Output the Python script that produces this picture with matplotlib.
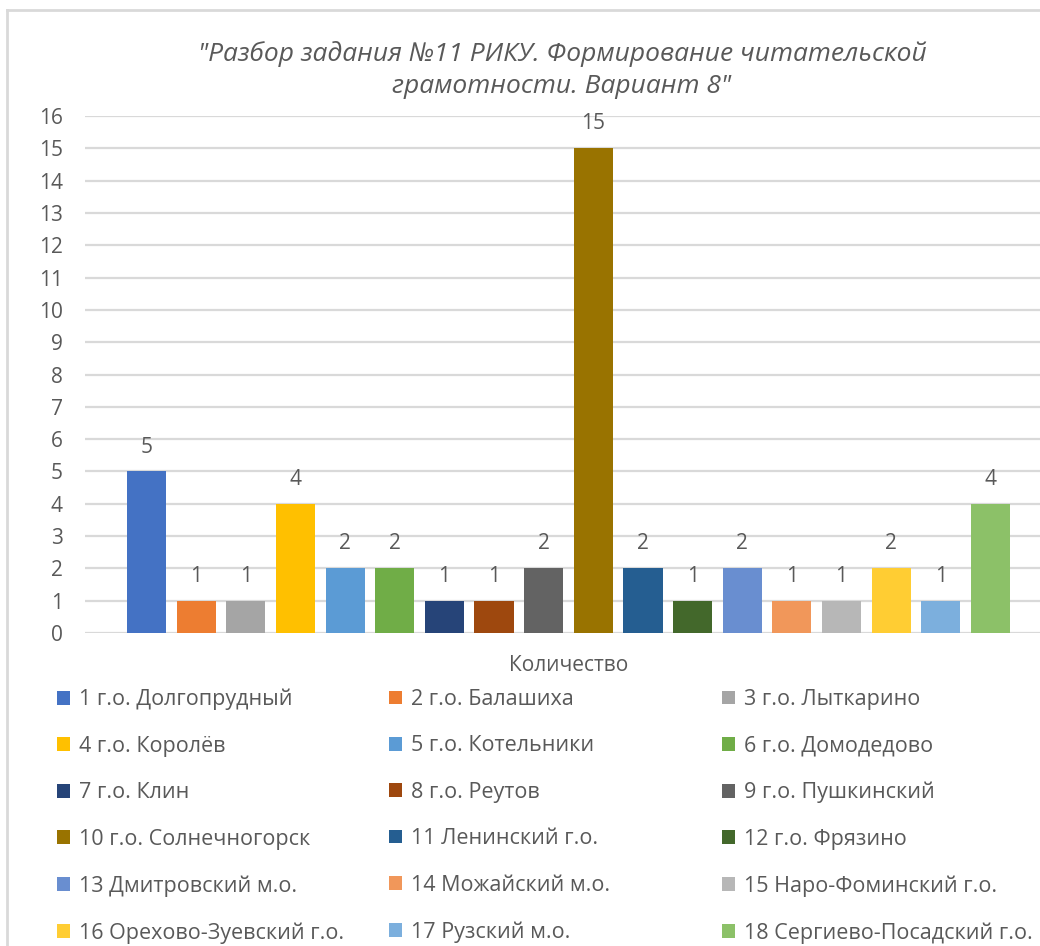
import matplotlib.pyplot as plt
from matplotlib.patches import Patch
from matplotlib.lines import Line2D
import numpy as np

# Data
category = "Количество"
names = [
    "1 г.о. Долгопрудный", "2 г.о. Балашиха", "3 г.о. Лыткарино",
    "4 г.о. Королёв", "5 г.о. Котельники", "6 г.о. Домодедово",
    "7 г.о. Клин", "8 г.о. Реутов", "9 г.о. Пушкинский",
    "10 г.о. Солнечногорск", "11 Ленинский г.о.", "12 г.о. Фрязино",
    "13 Дмитровский м.о.", "14 Можайский м.о.", "15 Наро-Фоминский г.о.",
    "16 Орехово-Зуевский г.о.", "17 Рузский м.о.", "18 Сергиево-Посадский г.о.",
]
values = [5, 1, 1, 4, 2, 2, 1, 1, 2, 15, 2, 1, 2, 1, 1, 2, 1, 4]
colors = [
    "#4472C4", "#ED7D31", "#A5A5A5", "#FFC000", "#5B9BD5", "#70AD47",
    "#264478", "#9E480E", "#636363", "#997300", "#255E91", "#43682B",
    "#698ED0", "#F1975A", "#B7B7B7", "#FFCD33", "#7CAFDD", "#8CC168",
]
title = '"Разбор задания №11 РИКУ. Формирование читательской\nграмотности. Вариант 8"'

plt.rcParams['font.family'] = ['Open Sans', 'DejaVu Sans']
gray = "#595959"
grid_c = "#D9D9D9"

W, H = 1040, 946
fig = plt.figure(figsize=(W / 100, H / 100), dpi=100)

# plot area in pixel terms
ax = fig.add_axes([85 / W, (H - 633) / H, 967 / W, 517 / H])

n = len(values)
xpos = np.arange(n) - (n - 1) / 2
for i in range(n):
    ax.bar(xpos[i], values[i], width=0.79, color=colors[i], label=names[i], zorder=3)
    ax.annotate(str(values[i]), (xpos[i], values[i]), xytext=(0, 10),
                textcoords="offset points", ha="center", va="bottom",
                fontsize=15, color=gray)

ax.set_xlim(-9.74, 9.74)
ax.set_ylim(0, 16)
ax.set_yticks(range(0, 17))
ax.set_xticks([0])
ax.set_xticklabels([category])
ax.tick_params(axis="both", length=0, labelsize=15, labelcolor=gray)
ax.tick_params(axis="x", pad=16)
ax.tick_params(axis="y", pad=16)
ax.yaxis.grid(True, color=grid_c, linewidth=1.6, zorder=0)
for s in ax.spines.values():
    s.set_visible(False)
ax.set_facecolor("none")

fig.text(562 / W, (H - 70) / H, title, ha="center", va="center",
         fontsize=19, style="italic", color=gray, linespacing=1.36)

# legend: three columns, row-wise order
col_x = [57, 389, 722]
for c in range(3):
    handles = [Patch(facecolor=colors[i], edgecolor="none") for i in range(c, n, 3)]
    labels = [names[i] for i in range(c, n, 3)]
    fig.legend(handles, labels, loc="upper left",
               bbox_to_anchor=(col_x[c] / W, (H - 689) / H),
               frameon=False, fontsize=15.5, labelcolor=gray,
               handlelength=0.6, handleheight=0.6, handletextpad=0.42,
               labelspacing=1.18, borderaxespad=0, borderpad=0)

# chart border
fig.add_artist(Line2D([7 / W, 7 / W], [0, (H - 10) / H], color=grid_c, linewidth=2))
fig.add_artist(Line2D([7 / W, 1], [(H - 10) / H, (H - 10) / H], color=grid_c, linewidth=2))

fig.savefig("out.png", dpi=100)
